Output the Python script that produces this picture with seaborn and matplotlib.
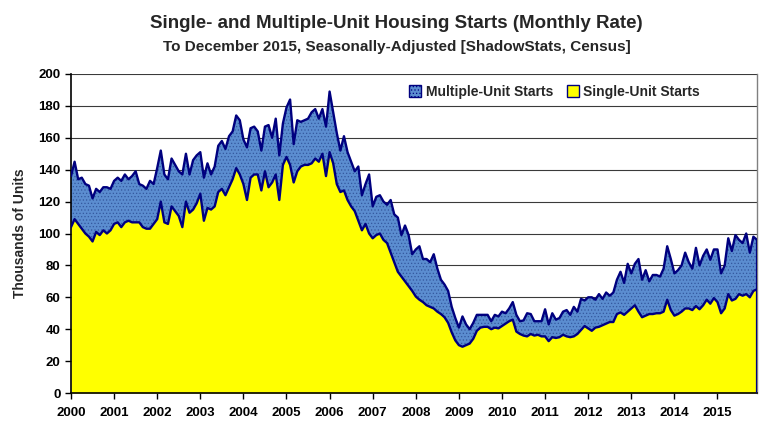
import numpy as np
import pandas as pd
import matplotlib
matplotlib.use('Agg')
import matplotlib.pyplot as plt
from matplotlib.patches import Patch
import seaborn as sns

# Monthly housing starts (thousands of units, monthly rate), Jan 2000 - Dec 2015
single_starts = [
    104, 109, 106, 103, 100, 98, 95, 101, 99, 102, 100, 102,       # 2000
    106, 107, 104, 107, 108, 107, 107, 107, 104, 103, 103, 106,    # 2001
    109, 120, 107, 106, 117, 114, 111, 104, 120, 113, 115, 119,    # 2002
    125, 108, 116, 115, 117, 126, 128, 124, 129, 134, 141, 137,    # 2003
    131, 121, 135, 137, 137, 127, 139, 129, 132, 137, 121, 143,    # 2004
    148, 143, 132, 139, 142, 143, 143, 144, 147, 145, 150, 136,    # 2005
    151, 144, 131, 126, 127, 121, 117, 114, 108, 102, 106, 100,    # 2006
    97, 99, 100, 96, 94, 88, 82, 76, 73, 70, 67, 64,               # 2007
    60.5, 58.5, 57, 55, 54, 53, 51, 49.5, 47.5, 44, 38, 33,        # 2008
    30, 29, 30, 31, 34, 39, 41, 41.5, 41.5, 40, 41, 40.5,          # 2009
    42, 43.5, 45, 46, 38.5, 37, 36, 35.5, 37, 36, 36.5, 35.5,      # 2010
    35.5, 32.5, 35, 34.5, 35, 36.5, 35.5, 35, 35.5, 37, 39.5, 42,  # 2011
    40.5, 39, 41, 41.5, 42.5, 43.5, 44.5, 44.5, 49.5, 50.5, 49, 51,  # 2012
    53, 55, 51, 47.5, 48.5, 49.5, 49.5, 50, 50, 51, 58.5, 52,      # 2013
    48.5, 49.5, 51, 53, 53, 52, 54.5, 52.5, 55, 58.5, 56, 59.5,    # 2014
    57, 50, 53, 62, 58, 59, 62, 61, 62, 60, 64, 65,                # 2015
]

total_starts = [
    136, 145, 134, 135, 131, 130, 122, 128, 126, 129, 129, 128,    # 2000
    133, 135, 133, 137, 134, 136, 139, 131, 130, 128, 133, 131,    # 2001
    141, 152, 137, 134, 147, 143, 139, 137, 150, 137, 146, 149,    # 2002
    151, 135, 144, 137, 142, 155, 158, 153, 161, 164, 174, 171,    # 2003
    159, 154, 166, 167, 164, 152, 167, 168, 160, 172, 149, 169,    # 2004
    179, 184, 156, 171, 170, 171, 172, 176, 178, 172, 178, 167,    # 2005
    189, 176, 163, 152, 161, 151, 145, 139, 142, 124, 131, 137,    # 2006
    117, 123, 124, 120, 118, 121, 112, 110, 99, 105, 99, 87,       # 2007
    90, 92, 84, 84, 82, 87, 78, 71, 68, 64, 54, 47,                # 2008
    41, 48, 43, 40, 44, 49, 49, 49, 49, 45, 49, 48,                # 2009
    51, 50, 53, 57, 49, 45, 45.5, 50, 49.5, 45, 45, 45,            # 2010
    52.5, 43, 50, 46, 47, 51, 52, 49, 54, 51, 59, 58,              # 2011
    60, 60, 58.5, 62, 59, 63, 61, 63, 71, 76, 69, 81,              # 2012
    75, 81, 84, 71, 77, 70, 74, 74, 73, 78, 92, 84,                # 2013
    75, 77, 80, 88, 82, 78, 91, 80, 86, 90, 83.5, 90,              # 2014
    90, 75, 80, 97, 89, 99, 96, 94, 100, 88, 98, 96,               # 2015
]

year_labels = [str(y) for y in range(2000, 2016)]

df = pd.DataFrame({'single': single_starts, 'total': total_starts})
df['date'] = 2000 + np.arange(len(df)) / 12.0

sns.set_style('white')
plt.rcParams['font.family'] = ['Liberation Sans Narrow', 'Liberation Sans', 'DejaVu Sans']
plt.rcParams['font.weight'] = 'bold'
plt.rcParams['hatch.linewidth'] = 0.5

navy = '#00007F'
blue = '#5B8DD0'
yellow = '#FFFF00'

fig = plt.figure(figsize=(7.81, 4.38), dpi=100)
ax = fig.add_axes([71 / 781, 1 - 393 / 438, (757 - 71) / 781, (393 - 74) / 438])

ax.fill_between(df['date'], 0, df['single'], color=yellow, lw=0, zorder=2)
ax.fill_between(df['date'], df['single'], df['total'], facecolor=blue,
                edgecolor='#34589E', hatch='.....', lw=0, zorder=2)
sns.lineplot(data=df, x='date', y='total', color=navy, lw=1.7, ax=ax, zorder=3)
sns.lineplot(data=df, x='date', y='single', color=navy, lw=1.7, ax=ax, zorder=3)
ax.vlines(df['date'].iloc[-1], 0, df['total'].iloc[-1], color=navy, lw=1.6, zorder=3)

ax.set_xlim(2000, df['date'].iloc[-1])
ax.set_ylim(0, 200)
ax.set_yticks(range(0, 201, 20))
ax.set_xticks(range(2000, 2016))
ax.set_xticklabels(year_labels)
for v in range(20, 201, 20):
    ax.axhline(v, color='#3a3a3a', lw=0.8, zorder=1)

ax.tick_params(axis='both', direction='out', length=4, width=1, labelsize=9.5,
               colors='black', bottom=True, left=True)
ax.tick_params(axis='x', pad=6)
for lab in ax.get_xticklabels() + ax.get_yticklabels():
    lab.set_fontweight('bold')

for side in ['left', 'bottom']:
    ax.spines[side].set_color('black')
    ax.spines[side].set_linewidth(1.2)
ax.spines['top'].set_visible(False)
ax.spines['right'].set_color('#808080')
ax.spines['right'].set_linewidth(1)

ax.set_xlabel('')
ax.set_ylabel('Thousands of Units', fontsize=10, fontweight='bold', labelpad=8)

fig.text(0.508, 0.947, 'Single- and Multiple-Unit Housing Starts (Monthly Rate)',
         ha='center', va='center', fontsize=13.5, fontweight='bold')
fig.text(0.508, 0.893, 'To December 2015, Seasonally-Adjusted [ShadowStats, Census]',
         ha='center', va='center', fontsize=11, fontweight='bold')

handles = [Patch(facecolor=blue, edgecolor=navy, hatch='.....', lw=1, label='Multiple-Unit Starts'),
           Patch(facecolor=yellow, edgecolor=navy, lw=1, label='Single-Unit Starts')]
leg = fig.legend(handles=handles, loc='center', bbox_to_anchor=(0.71, 0.79), ncol=2,
                 frameon=False, fontsize=10, handlelength=0.9, handleheight=0.9,
                 handletextpad=0.3, columnspacing=1.0)
for t in leg.get_texts():
    t.set_fontweight('bold')

fig.savefig('out.png', dpi=100)
